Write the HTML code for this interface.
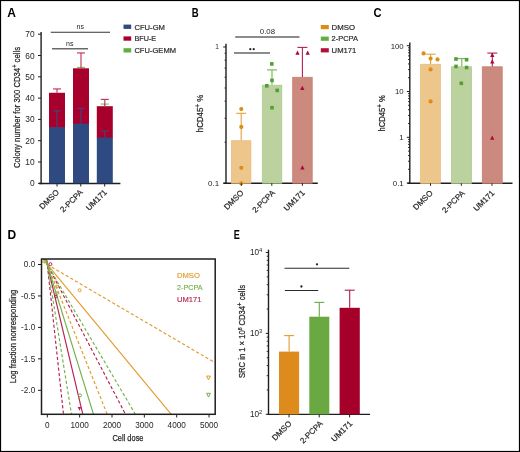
<!DOCTYPE html>
<html><head><meta charset="utf-8"><style>
html,body{margin:0;padding:0;width:520px;height:452px;overflow:hidden;background:#fff;}
svg{will-change:transform;} svg text{font-family:"Liberation Sans", sans-serif;}
</style></head><body>
<svg width="520" height="452" viewBox="0 0 520 452" style="position:absolute;left:0;top:0">
<rect x="0" y="0" width="520" height="452" fill="#ffffff"/>
<text transform="translate(7.3 16.8) scale(1.0 1)" x="0" y="0" font-size="12" font-weight="bold" fill="#000">A</text>
<text transform="translate(191.8 17.0) scale(0.8 1)" x="0" y="0" font-size="12" font-weight="bold" fill="#000">B</text>
<text transform="translate(373.4 17.1) scale(0.93 1)" x="0" y="0" font-size="12" font-weight="bold" fill="#000">C</text>
<text transform="translate(7.6 238.9) scale(1.0 1)" x="0" y="0" font-size="12" font-weight="bold" fill="#000">D</text>
<text transform="translate(233.8 238.9) scale(0.76 1)" x="0" y="0" font-size="12" font-weight="bold" fill="#000">E</text>
<line x1="41.10" y1="31.90" x2="41.10" y2="184.20" stroke="#1e1e1e" stroke-width="1.4" />
<line x1="38.90" y1="183.50" x2="120.40" y2="183.50" stroke="#1e1e1e" stroke-width="1.4" />
<line x1="38.00" y1="183.30" x2="41.00" y2="183.30" stroke="#1e1e1e" stroke-width="1.0" />
<text x="34.60" y="186.30" font-size="8.4" text-anchor="end" fill="#262626" font-weight="normal" >0</text>
<line x1="38.00" y1="162.00" x2="41.00" y2="162.00" stroke="#1e1e1e" stroke-width="1.0" />
<text x="34.60" y="165.00" font-size="8.4" text-anchor="end" fill="#262626" font-weight="normal" >10</text>
<line x1="38.00" y1="140.70" x2="41.00" y2="140.70" stroke="#1e1e1e" stroke-width="1.0" />
<text x="34.60" y="143.70" font-size="8.4" text-anchor="end" fill="#262626" font-weight="normal" >20</text>
<line x1="38.00" y1="119.40" x2="41.00" y2="119.40" stroke="#1e1e1e" stroke-width="1.0" />
<text x="34.60" y="122.40" font-size="8.4" text-anchor="end" fill="#262626" font-weight="normal" >30</text>
<line x1="38.00" y1="98.10" x2="41.00" y2="98.10" stroke="#1e1e1e" stroke-width="1.0" />
<text x="34.60" y="101.10" font-size="8.4" text-anchor="end" fill="#262626" font-weight="normal" >40</text>
<line x1="38.00" y1="76.80" x2="41.00" y2="76.80" stroke="#1e1e1e" stroke-width="1.0" />
<text x="34.60" y="79.80" font-size="8.4" text-anchor="end" fill="#262626" font-weight="normal" >50</text>
<line x1="38.00" y1="55.50" x2="41.00" y2="55.50" stroke="#1e1e1e" stroke-width="1.0" />
<text x="34.60" y="58.50" font-size="8.4" text-anchor="end" fill="#262626" font-weight="normal" >60</text>
<line x1="38.00" y1="34.20" x2="41.00" y2="34.20" stroke="#1e1e1e" stroke-width="1.0" />
<text x="34.60" y="37.20" font-size="8.4" text-anchor="end" fill="#262626" font-weight="normal" >70</text>
<rect x="49.00" y="92.78" width="16.00" height="35.11" fill="#a8002c" />
<rect x="49.00" y="127.28" width="16.00" height="56.02" fill="#2e4a80" />
<rect x="73.00" y="68.28" width="16.00" height="55.98" fill="#a8002c" />
<rect x="73.00" y="123.66" width="16.00" height="59.64" fill="#2e4a80" />
<rect x="96.80" y="106.19" width="16.00" height="31.91" fill="#a8002c" />
<rect x="96.80" y="137.51" width="16.00" height="45.79" fill="#2e4a80" />
<line x1="57.00" y1="127.28" x2="57.00" y2="110.88" stroke="#44447a" stroke-width="1.1" />
<line x1="53.00" y1="110.88" x2="61.00" y2="110.88" stroke="#44447a" stroke-width="1.1" />
<line x1="57.00" y1="92.78" x2="57.00" y2="88.94" stroke="#c02c55" stroke-width="1.1" />
<line x1="53.00" y1="88.94" x2="61.00" y2="88.94" stroke="#c02c55" stroke-width="1.1" />
<line x1="81.00" y1="123.66" x2="81.00" y2="108.32" stroke="#44447a" stroke-width="1.1" />
<line x1="77.00" y1="108.32" x2="85.00" y2="108.32" stroke="#44447a" stroke-width="1.1" />
<line x1="81.00" y1="68.28" x2="81.00" y2="67.43" stroke="#7cc05c" stroke-width="1.1" />
<line x1="77.00" y1="67.43" x2="85.00" y2="67.43" stroke="#7cc05c" stroke-width="1.1" />
<line x1="81.00" y1="68.28" x2="81.00" y2="52.94" stroke="#c02c55" stroke-width="1.1" />
<line x1="77.00" y1="52.94" x2="85.00" y2="52.94" stroke="#c02c55" stroke-width="1.1" />
<line x1="104.80" y1="137.51" x2="104.80" y2="131.12" stroke="#44447a" stroke-width="1.1" />
<line x1="100.80" y1="131.12" x2="108.80" y2="131.12" stroke="#44447a" stroke-width="1.1" />
<line x1="104.80" y1="106.19" x2="104.80" y2="104.06" stroke="#7cc05c" stroke-width="1.1" />
<line x1="100.80" y1="104.06" x2="108.80" y2="104.06" stroke="#7cc05c" stroke-width="1.1" />
<line x1="104.80" y1="106.19" x2="104.80" y2="99.38" stroke="#c02c55" stroke-width="1.1" />
<line x1="100.80" y1="99.38" x2="108.80" y2="99.38" stroke="#c02c55" stroke-width="1.1" />
<line x1="57.00" y1="183.50" x2="57.00" y2="186.50" stroke="#1e1e1e" stroke-width="1.0" />
<line x1="80.80" y1="183.50" x2="80.80" y2="186.50" stroke="#1e1e1e" stroke-width="1.0" />
<line x1="104.70" y1="183.50" x2="104.70" y2="186.50" stroke="#1e1e1e" stroke-width="1.0" />
<line x1="50.80" y1="32.30" x2="110.00" y2="32.30" stroke="#333" stroke-width="1.1" />
<text x="80.30" y="29.40" font-size="7.0" text-anchor="middle" fill="#262626" font-weight="normal" >ns</text>
<line x1="52.00" y1="48.80" x2="88.00" y2="48.80" stroke="#6a6a6a" stroke-width="1.5" />
<text x="69.80" y="45.90" font-size="7.0" text-anchor="middle" fill="#262626" font-weight="normal" >ns</text>
<rect x="123.50" y="24.60" width="7.70" height="4.30" fill="#2e4a80" />
<text x="134.40" y="29.50" font-size="8" text-anchor="start" fill="#2a2a2a" font-weight="normal" textLength="30.6" lengthAdjust="spacingAndGlyphs" stroke="#2a2a2a" stroke-width="0.2">CFU-GM</text>
<rect x="123.50" y="36.40" width="7.70" height="4.30" fill="#a8002c" />
<text x="134.40" y="41.30" font-size="8" text-anchor="start" fill="#2a2a2a" font-weight="normal" textLength="21.8" lengthAdjust="spacingAndGlyphs" stroke="#2a2a2a" stroke-width="0.2">BFU-E</text>
<rect x="123.50" y="48.20" width="7.70" height="4.30" fill="#5fae3f" />
<text x="134.40" y="53.10" font-size="8" text-anchor="start" fill="#2a2a2a" font-weight="normal" textLength="41.6" lengthAdjust="spacingAndGlyphs" stroke="#2a2a2a" stroke-width="0.2">CFU-GEMM</text>
<text x="59.60" y="192.80" font-size="8" text-anchor="end" fill="#262626" font-weight="normal" transform="rotate(-45 59.6 192.8)" stroke="#262626" stroke-width="0.2">DMSO</text>
<text x="83.40" y="192.80" font-size="8" text-anchor="end" fill="#262626" font-weight="normal" transform="rotate(-45 83.4 192.8)" stroke="#262626" stroke-width="0.2">2-PCPA</text>
<text x="107.50" y="192.80" font-size="8" text-anchor="end" fill="#262626" font-weight="normal" transform="rotate(-45 107.5 192.8)" stroke="#262626" stroke-width="0.2">UM171</text>
<text x="20.30" y="168.00" font-size="9.6" text-anchor="start" fill="#262626" font-weight="normal" textLength="121" lengthAdjust="spacingAndGlyphs" transform="rotate(-90 20.3 168)" stroke="#262626" stroke-width="0.25">Colony number for 300 CD34<tspan dy="-3.3" font-size="7">+</tspan><tspan dy="3.3"> cells</tspan></text>
<line x1="226.00" y1="43.80" x2="226.00" y2="183.80" stroke="#1e1e1e" stroke-width="1.4" />
<line x1="223.50" y1="183.20" x2="317.80" y2="183.20" stroke="#1e1e1e" stroke-width="1.4" />
<line x1="223.20" y1="47.00" x2="226.00" y2="47.00" stroke="#1e1e1e" stroke-width="1.0" />
<line x1="223.20" y1="183.20" x2="226.00" y2="183.20" stroke="#1e1e1e" stroke-width="1.0" />
<line x1="224.60" y1="142.20" x2="226.00" y2="142.20" stroke="#1e1e1e" stroke-width="1.0" />
<line x1="224.60" y1="118.22" x2="226.00" y2="118.22" stroke="#1e1e1e" stroke-width="1.0" />
<line x1="224.60" y1="101.20" x2="226.00" y2="101.20" stroke="#1e1e1e" stroke-width="1.0" />
<line x1="224.60" y1="88.00" x2="226.00" y2="88.00" stroke="#1e1e1e" stroke-width="1.0" />
<line x1="224.60" y1="77.22" x2="226.00" y2="77.22" stroke="#1e1e1e" stroke-width="1.0" />
<line x1="224.60" y1="68.10" x2="226.00" y2="68.10" stroke="#1e1e1e" stroke-width="1.0" />
<line x1="224.60" y1="60.20" x2="226.00" y2="60.20" stroke="#1e1e1e" stroke-width="1.0" />
<line x1="224.60" y1="53.23" x2="226.00" y2="53.23" stroke="#1e1e1e" stroke-width="1.0" />
<text x="218.90" y="49.40" font-size="6.5" text-anchor="end" fill="#262626" font-weight="normal" >1</text>
<text x="219.20" y="186.00" font-size="8" text-anchor="end" fill="#262626" font-weight="normal" >0.1</text>
<rect x="231.40" y="140.70" width="19.50" height="42.50" fill="#edc68c" stroke="#e9bd7c" stroke-width="0.8"/>
<rect x="262.30" y="85.20" width="19.50" height="98.00" fill="#bbd29e" stroke="#abcb8f" stroke-width="0.8"/>
<rect x="292.70" y="77.30" width="19.50" height="105.90" fill="#cc8a7e" stroke="#c77c72" stroke-width="0.8"/>
<line x1="241.20" y1="140.30" x2="241.20" y2="113.30" stroke="#e3a040" stroke-width="1.1" />
<line x1="236.20" y1="113.30" x2="246.20" y2="113.30" stroke="#e3a040" stroke-width="1.1" />
<line x1="272.00" y1="84.80" x2="272.00" y2="69.90" stroke="#74b450" stroke-width="1.1" />
<line x1="267.00" y1="69.90" x2="277.00" y2="69.90" stroke="#74b450" stroke-width="1.1" />
<line x1="302.40" y1="76.90" x2="302.40" y2="47.40" stroke="#b52050" stroke-width="1.1" />
<line x1="297.40" y1="47.40" x2="307.40" y2="47.40" stroke="#b52050" stroke-width="1.1" />
<circle cx="241.30" cy="109.10" r="2.1" fill="#dc8d16" />
<circle cx="241.30" cy="126.90" r="2.1" fill="#dc8d16" />
<circle cx="241.30" cy="167.80" r="2.1" fill="#dc8d16" />
<circle cx="241.30" cy="183.30" r="2.1" fill="#dc8d16" />
<rect x="270.00" y="62.10" width="3.60" height="3.60" fill="#52a033" />
<rect x="270.20" y="78.60" width="3.60" height="3.60" fill="#52a033" />
<rect x="265.00" y="84.00" width="3.60" height="3.60" fill="#52a033" />
<rect x="275.40" y="88.60" width="3.60" height="3.60" fill="#52a033" />
<rect x="270.20" y="105.90" width="3.60" height="3.60" fill="#52a033" />
<polygon points="297.50,50.42 295.35,54.72 299.65,54.72" fill="#a8083a" stroke="none" stroke-width="0"/>
<polygon points="307.70,50.42 305.55,54.72 309.85,54.72" fill="#a8083a" stroke="none" stroke-width="0"/>
<polygon points="302.30,85.82 300.15,90.12 304.45,90.12" fill="#a8083a" stroke="none" stroke-width="0"/>
<polygon points="302.40,165.22 300.25,169.52 304.55,169.52" fill="#a8083a" stroke="none" stroke-width="0"/>
<line x1="241.30" y1="183.20" x2="241.30" y2="185.80" stroke="#1e1e1e" stroke-width="1.0" />
<line x1="271.80" y1="183.20" x2="271.80" y2="185.80" stroke="#1e1e1e" stroke-width="1.0" />
<line x1="302.40" y1="183.20" x2="302.40" y2="185.80" stroke="#1e1e1e" stroke-width="1.0" />
<line x1="235.20" y1="36.90" x2="299.50" y2="36.90" stroke="#666" stroke-width="1.5" />
<text x="267.40" y="34.20" font-size="7.8" text-anchor="middle" fill="#262626" font-weight="normal" >0.08</text>

<line x1="234.00" y1="52.90" x2="270.00" y2="52.90" stroke="#666" stroke-width="1.5" />
<circle cx="250.30" cy="49.20" r="1.1" fill="#222" />
<circle cx="253.70" cy="49.20" r="1.1" fill="#222" />
<rect x="320.80" y="25.00" width="8.00" height="4.20" fill="#dc8d16" />
<text x="331.60" y="29.80" font-size="8" text-anchor="start" fill="#2a2a2a" font-weight="normal" textLength="23.4" lengthAdjust="spacingAndGlyphs" stroke="#2a2a2a" stroke-width="0.2">DMSO</text>
<rect x="320.80" y="36.60" width="8.00" height="4.20" fill="#5fae3f" />
<text x="331.60" y="41.40" font-size="8" text-anchor="start" fill="#2a2a2a" font-weight="normal" textLength="26.4" lengthAdjust="spacingAndGlyphs" stroke="#2a2a2a" stroke-width="0.2">2-PCPA</text>
<rect x="320.80" y="48.20" width="8.00" height="4.20" fill="#b0103a" />
<text x="331.60" y="53.00" font-size="8" text-anchor="start" fill="#2a2a2a" font-weight="normal" textLength="24.8" lengthAdjust="spacingAndGlyphs" stroke="#2a2a2a" stroke-width="0.2">UM171</text>
<text x="244.20" y="193.30" font-size="8" text-anchor="end" fill="#262626" font-weight="normal" transform="rotate(-45 244.2 193.3)" stroke="#262626" stroke-width="0.2">DMSO</text>
<text x="275.50" y="193.30" font-size="8" text-anchor="end" fill="#262626" font-weight="normal" transform="rotate(-45 275.5 193.3)" stroke="#262626" stroke-width="0.2">2-PCPA</text>
<text x="305.30" y="193.30" font-size="8" text-anchor="end" fill="#262626" font-weight="normal" transform="rotate(-45 305.3 193.3)" stroke="#262626" stroke-width="0.2">UM171</text>
<text x="203.50" y="131.90" font-size="8.6" text-anchor="start" fill="#262626" font-weight="normal" textLength="37.5" lengthAdjust="spacingAndGlyphs" transform="rotate(-90 203.5 132.2)" stroke="#262626" stroke-width="0.25">hCD45<tspan dy="-3" font-size="7">+</tspan><tspan dy="3"> %</tspan></text>
<line x1="409.80" y1="42.60" x2="409.80" y2="183.80" stroke="#1e1e1e" stroke-width="1.4" />
<line x1="407.50" y1="183.30" x2="512.50" y2="183.30" stroke="#1e1e1e" stroke-width="1.4" />
<line x1="406.80" y1="45.70" x2="409.80" y2="45.70" stroke="#1e1e1e" stroke-width="1.0" />
<line x1="406.80" y1="91.50" x2="409.80" y2="91.50" stroke="#1e1e1e" stroke-width="1.0" />
<line x1="406.80" y1="137.30" x2="409.80" y2="137.30" stroke="#1e1e1e" stroke-width="1.0" />
<line x1="406.80" y1="183.10" x2="409.80" y2="183.10" stroke="#1e1e1e" stroke-width="1.0" />
<line x1="408.00" y1="169.31" x2="409.80" y2="169.31" stroke="#1e1e1e" stroke-width="0.9" />
<line x1="408.00" y1="161.25" x2="409.80" y2="161.25" stroke="#1e1e1e" stroke-width="0.9" />
<line x1="408.00" y1="155.53" x2="409.80" y2="155.53" stroke="#1e1e1e" stroke-width="0.9" />
<line x1="408.00" y1="151.09" x2="409.80" y2="151.09" stroke="#1e1e1e" stroke-width="0.9" />
<line x1="408.00" y1="147.46" x2="409.80" y2="147.46" stroke="#1e1e1e" stroke-width="0.9" />
<line x1="408.00" y1="144.39" x2="409.80" y2="144.39" stroke="#1e1e1e" stroke-width="0.9" />
<line x1="408.00" y1="141.74" x2="409.80" y2="141.74" stroke="#1e1e1e" stroke-width="0.9" />
<line x1="408.00" y1="139.40" x2="409.80" y2="139.40" stroke="#1e1e1e" stroke-width="0.9" />
<line x1="408.00" y1="123.51" x2="409.80" y2="123.51" stroke="#1e1e1e" stroke-width="0.9" />
<line x1="408.00" y1="115.45" x2="409.80" y2="115.45" stroke="#1e1e1e" stroke-width="0.9" />
<line x1="408.00" y1="109.73" x2="409.80" y2="109.73" stroke="#1e1e1e" stroke-width="0.9" />
<line x1="408.00" y1="105.29" x2="409.80" y2="105.29" stroke="#1e1e1e" stroke-width="0.9" />
<line x1="408.00" y1="101.66" x2="409.80" y2="101.66" stroke="#1e1e1e" stroke-width="0.9" />
<line x1="408.00" y1="98.59" x2="409.80" y2="98.59" stroke="#1e1e1e" stroke-width="0.9" />
<line x1="408.00" y1="95.94" x2="409.80" y2="95.94" stroke="#1e1e1e" stroke-width="0.9" />
<line x1="408.00" y1="93.60" x2="409.80" y2="93.60" stroke="#1e1e1e" stroke-width="0.9" />
<line x1="408.00" y1="77.71" x2="409.80" y2="77.71" stroke="#1e1e1e" stroke-width="0.9" />
<line x1="408.00" y1="69.65" x2="409.80" y2="69.65" stroke="#1e1e1e" stroke-width="0.9" />
<line x1="408.00" y1="63.93" x2="409.80" y2="63.93" stroke="#1e1e1e" stroke-width="0.9" />
<line x1="408.00" y1="59.49" x2="409.80" y2="59.49" stroke="#1e1e1e" stroke-width="0.9" />
<line x1="408.00" y1="55.86" x2="409.80" y2="55.86" stroke="#1e1e1e" stroke-width="0.9" />
<line x1="408.00" y1="52.79" x2="409.80" y2="52.79" stroke="#1e1e1e" stroke-width="0.9" />
<line x1="408.00" y1="50.14" x2="409.80" y2="50.14" stroke="#1e1e1e" stroke-width="0.9" />
<line x1="408.00" y1="47.80" x2="409.80" y2="47.80" stroke="#1e1e1e" stroke-width="0.9" />
<text x="403.70" y="48.50" font-size="7.8" text-anchor="end" fill="#262626" font-weight="normal" >100</text>
<text x="403.70" y="94.30" font-size="7.8" text-anchor="end" fill="#262626" font-weight="normal" >10</text>
<text x="403.70" y="140.10" font-size="7.8" text-anchor="end" fill="#262626" font-weight="normal" >1</text>
<text x="403.70" y="185.90" font-size="7.8" text-anchor="end" fill="#262626" font-weight="normal" >0.1</text>
<rect x="420.60" y="64.30" width="19.80" height="119.00" fill="#edc68c" stroke="#e9bd7c" stroke-width="0.8"/>
<rect x="451.50" y="66.80" width="20.00" height="116.50" fill="#bbd29e" stroke="#abcb8f" stroke-width="0.8"/>
<rect x="482.30" y="66.80" width="19.90" height="116.50" fill="#cc8a7e" stroke="#c77c72" stroke-width="0.8"/>
<line x1="430.60" y1="63.90" x2="430.60" y2="54.20" stroke="#e3a040" stroke-width="1.1" />
<line x1="425.60" y1="54.20" x2="435.60" y2="54.20" stroke="#e3a040" stroke-width="1.1" />
<line x1="461.80" y1="66.40" x2="461.80" y2="58.60" stroke="#74b450" stroke-width="1.1" />
<line x1="456.80" y1="58.60" x2="466.80" y2="58.60" stroke="#74b450" stroke-width="1.1" />
<line x1="492.30" y1="66.40" x2="492.30" y2="53.10" stroke="#b52050" stroke-width="1.1" />
<line x1="487.30" y1="53.10" x2="497.30" y2="53.10" stroke="#b52050" stroke-width="1.1" />
<circle cx="423.60" cy="53.40" r="2.1" fill="#dc8d16" />
<circle cx="430.60" cy="58.60" r="2.1" fill="#dc8d16" />
<circle cx="437.50" cy="59.40" r="2.1" fill="#dc8d16" />
<circle cx="430.60" cy="69.40" r="2.1" fill="#dc8d16" />
<circle cx="430.60" cy="101.40" r="2.1" fill="#dc8d16" />
<rect x="454.20" y="57.20" width="3.60" height="3.60" fill="#52a033" />
<rect x="464.80" y="57.90" width="3.60" height="3.60" fill="#52a033" />
<rect x="454.20" y="64.60" width="3.60" height="3.60" fill="#52a033" />
<rect x="464.80" y="65.70" width="3.60" height="3.60" fill="#52a033" />
<rect x="459.50" y="81.50" width="3.60" height="3.60" fill="#52a033" />
<polygon points="492.30,52.62 490.15,56.92 494.45,56.92" fill="#a8083a" stroke="none" stroke-width="0"/>
<polygon points="492.30,59.22 490.15,63.52 494.45,63.52" fill="#a8083a" stroke="none" stroke-width="0"/>
<polygon points="492.20,135.52 490.05,139.82 494.35,139.82" fill="#a8083a" stroke="none" stroke-width="0"/>
<line x1="430.50" y1="183.30" x2="430.50" y2="185.80" stroke="#1e1e1e" stroke-width="1.0" />
<line x1="461.30" y1="183.30" x2="461.30" y2="185.80" stroke="#1e1e1e" stroke-width="1.0" />
<line x1="492.00" y1="183.30" x2="492.00" y2="185.80" stroke="#1e1e1e" stroke-width="1.0" />
<text x="433.30" y="193.60" font-size="8" text-anchor="end" fill="#262626" font-weight="normal" transform="rotate(-45 433.3 193.6)" stroke="#262626" stroke-width="0.2">DMSO</text>
<text x="465.30" y="193.60" font-size="8" text-anchor="end" fill="#262626" font-weight="normal" transform="rotate(-45 465.3 193.6)" stroke="#262626" stroke-width="0.2">2-PCPA</text>
<text x="495.00" y="193.60" font-size="8" text-anchor="end" fill="#262626" font-weight="normal" transform="rotate(-45 495.0 193.6)" stroke="#262626" stroke-width="0.2">UM171</text>
<text x="385.00" y="131.10" font-size="8.6" text-anchor="start" fill="#262626" font-weight="normal" textLength="36.2" lengthAdjust="spacingAndGlyphs" transform="rotate(-90 385 131.4)" stroke="#262626" stroke-width="0.25">hCD45<tspan dy="-3" font-size="7">+</tspan><tspan dy="3"> %</tspan></text>
<defs><clipPath id="clipD"><rect x="41.5" y="259.0" width="173.7" height="155.3"/></clipPath></defs>
<g clip-path="url(#clipD)">
<line x1="-109.10" y1="-35.10" x2="281.90" y2="713.90" stroke="#b81f4e" stroke-width="1.15" stroke-dasharray="3.2,2.2"/>
<line x1="-23.70" y1="-35.10" x2="153.80" y2="713.90" stroke="#b81f4e" stroke-width="1.15" />
<line x1="14.90" y1="-35.10" x2="95.90" y2="713.90" stroke="#b81f4e" stroke-width="1.15" stroke-dasharray="3.2,2.2"/>
<line x1="-288.50" y1="67.90" x2="551.00" y2="559.40" stroke="#e39a2c" stroke-width="1.15" stroke-dasharray="3.2,2.2"/>
<line x1="-200.50" y1="-35.10" x2="419.00" y2="713.90" stroke="#e39a2c" stroke-width="1.15" />
<line x1="-72.50" y1="-35.10" x2="227.00" y2="713.90" stroke="#e39a2c" stroke-width="1.15" stroke-dasharray="3.2,2.2"/>
<line x1="-128.90" y1="-35.10" x2="311.60" y2="713.90" stroke="#70b24a" stroke-width="1.15" stroke-dasharray="3.2,2.2"/>
<line x1="-45.10" y1="-35.10" x2="185.90" y2="713.90" stroke="#70b24a" stroke-width="1.15" />
<line x1="-1.10" y1="-35.10" x2="119.90" y2="713.90" stroke="#70b24a" stroke-width="1.15" stroke-dasharray="3.2,2.2"/>
</g>
<rect x="41.5" y="259.0" width="173.7" height="155.3" fill="none" stroke="#1e1e1e" stroke-width="1.5"/>
<line x1="38.00" y1="264.50" x2="41.50" y2="264.50" stroke="#1e1e1e" stroke-width="1.0" />
<text x="35.20" y="267.40" font-size="8.2" text-anchor="end" fill="#262626" font-weight="normal" >0.0</text>
<line x1="38.00" y1="295.95" x2="41.50" y2="295.95" stroke="#1e1e1e" stroke-width="1.0" />
<text x="35.20" y="298.85" font-size="8.2" text-anchor="end" fill="#262626" font-weight="normal" >-0.5</text>
<line x1="38.00" y1="327.40" x2="41.50" y2="327.40" stroke="#1e1e1e" stroke-width="1.0" />
<text x="35.20" y="330.30" font-size="8.2" text-anchor="end" fill="#262626" font-weight="normal" >-1.0</text>
<line x1="38.00" y1="358.85" x2="41.50" y2="358.85" stroke="#1e1e1e" stroke-width="1.0" />
<text x="35.20" y="361.75" font-size="8.2" text-anchor="end" fill="#262626" font-weight="normal" >-1.5</text>
<line x1="38.00" y1="390.30" x2="41.50" y2="390.30" stroke="#1e1e1e" stroke-width="1.0" />
<text x="35.20" y="393.20" font-size="8.2" text-anchor="end" fill="#262626" font-weight="normal" >-2.0</text>
<line x1="47.30" y1="414.30" x2="47.30" y2="417.50" stroke="#1e1e1e" stroke-width="1.0" />
<text x="47.30" y="427.70" font-size="8.2" text-anchor="middle" fill="#262626" font-weight="normal" >0</text>
<line x1="79.65" y1="414.30" x2="79.65" y2="417.50" stroke="#1e1e1e" stroke-width="1.0" />
<text x="79.65" y="427.70" font-size="8.2" text-anchor="middle" fill="#262626" font-weight="normal" >1000</text>
<line x1="112.00" y1="414.30" x2="112.00" y2="417.50" stroke="#1e1e1e" stroke-width="1.0" />
<text x="112.00" y="427.70" font-size="8.2" text-anchor="middle" fill="#262626" font-weight="normal" >2000</text>
<line x1="144.35" y1="414.30" x2="144.35" y2="417.50" stroke="#1e1e1e" stroke-width="1.0" />
<text x="144.35" y="427.70" font-size="8.2" text-anchor="middle" fill="#262626" font-weight="normal" >3000</text>
<line x1="176.70" y1="414.30" x2="176.70" y2="417.50" stroke="#1e1e1e" stroke-width="1.0" />
<text x="176.70" y="427.70" font-size="8.2" text-anchor="middle" fill="#262626" font-weight="normal" >4000</text>
<line x1="209.05" y1="414.30" x2="209.05" y2="417.50" stroke="#1e1e1e" stroke-width="1.0" />
<text x="209.05" y="427.70" font-size="8.2" text-anchor="middle" fill="#262626" font-weight="normal" >5000</text>
<text x="128.00" y="441.00" font-size="9.6" text-anchor="middle" fill="#262626" font-weight="normal" textLength="31" lengthAdjust="spacingAndGlyphs" stroke="#262626" stroke-width="0.25">Cell dose</text>
<text x="16.20" y="383.20" font-size="9.4" text-anchor="start" fill="#262626" font-weight="normal" textLength="93.5" lengthAdjust="spacingAndGlyphs" transform="rotate(-90 16.2 383.2)" stroke="#262626" stroke-width="0.25">Log fraction nonresponding</text>
<text x="177.00" y="277.60" font-size="7.8" text-anchor="start" fill="#e39a2c" font-weight="normal" textLength="22.9" lengthAdjust="spacingAndGlyphs" stroke="#e39a2c" stroke-width="0.15">DMSO</text>
<text x="177.00" y="289.80" font-size="7.8" text-anchor="start" fill="#70b24a" font-weight="normal" textLength="25.7" lengthAdjust="spacingAndGlyphs" stroke="#70b24a" stroke-width="0.15">2-PCPA</text>
<text x="177.00" y="302.00" font-size="7.8" text-anchor="start" fill="#b81f4e" font-weight="normal" textLength="24.4" lengthAdjust="spacingAndGlyphs" stroke="#b81f4e" stroke-width="0.15">UM171</text>
<circle cx="50.4" cy="264.2" r="1.5" fill="none" stroke="#b81f4e" stroke-width="1"/>
<circle cx="79.6" cy="290.3" r="1.5" fill="none" stroke="#e39a2c" stroke-width="1"/>
<circle cx="80" cy="395.4" r="1.5" fill="none" stroke="#70b24a" stroke-width="1"/>
<polygon points="79.50,410.66 77.70,407.06 81.30,407.06" fill="#b81f4e" stroke="none" stroke-width="0"/>
<circle cx="56.9" cy="286.5" r="1.4" fill="none" stroke="#e39a2c" stroke-width="1"/>
<circle cx="56.9" cy="293.4" r="1.4" fill="none" stroke="#70b24a" stroke-width="1"/>
<circle cx="55.9" cy="296.6" r="1.3" fill="none" stroke="#b81f4e" stroke-width="1"/>
<polygon points="208.50,379.88 206.60,376.08 210.40,376.08" fill="#fff" stroke="#e39a2c" stroke-width="1.0"/>
<polygon points="208.50,397.08 206.60,393.28 210.40,393.28" fill="#fff" stroke="#70b24a" stroke-width="1.0"/>
<line x1="268.50" y1="249.70" x2="268.50" y2="415.00" stroke="#1e1e1e" stroke-width="1.4" />
<line x1="267.80" y1="414.40" x2="370.10" y2="414.40" stroke="#1e1e1e" stroke-width="1.4" />
<line x1="265.80" y1="414.30" x2="268.50" y2="414.30" stroke="#1e1e1e" stroke-width="1.0" />
<text x="262.3" y="417.20" font-size="8.2" text-anchor="end" fill="#262626">10<tspan dy="-3.6" font-size="5.8">2</tspan></text>
<line x1="265.80" y1="333.40" x2="268.50" y2="333.40" stroke="#1e1e1e" stroke-width="1.0" />
<text x="262.3" y="336.30" font-size="8.2" text-anchor="end" fill="#262626">10<tspan dy="-3.6" font-size="5.8">3</tspan></text>
<line x1="265.80" y1="252.50" x2="268.50" y2="252.50" stroke="#1e1e1e" stroke-width="1.0" />
<text x="262.3" y="255.40" font-size="8.2" text-anchor="end" fill="#262626">10<tspan dy="-3.6" font-size="5.8">4</tspan></text>
<line x1="266.70" y1="389.95" x2="268.50" y2="389.95" stroke="#1e1e1e" stroke-width="0.9" />
<line x1="266.70" y1="375.70" x2="268.50" y2="375.70" stroke="#1e1e1e" stroke-width="0.9" />
<line x1="266.70" y1="365.59" x2="268.50" y2="365.59" stroke="#1e1e1e" stroke-width="0.9" />
<line x1="266.70" y1="357.75" x2="268.50" y2="357.75" stroke="#1e1e1e" stroke-width="0.9" />
<line x1="266.70" y1="351.35" x2="268.50" y2="351.35" stroke="#1e1e1e" stroke-width="0.9" />
<line x1="266.70" y1="345.93" x2="268.50" y2="345.93" stroke="#1e1e1e" stroke-width="0.9" />
<line x1="266.70" y1="341.24" x2="268.50" y2="341.24" stroke="#1e1e1e" stroke-width="0.9" />
<line x1="266.70" y1="337.10" x2="268.50" y2="337.10" stroke="#1e1e1e" stroke-width="0.9" />
<line x1="266.70" y1="309.05" x2="268.50" y2="309.05" stroke="#1e1e1e" stroke-width="0.9" />
<line x1="266.70" y1="294.80" x2="268.50" y2="294.80" stroke="#1e1e1e" stroke-width="0.9" />
<line x1="266.70" y1="284.69" x2="268.50" y2="284.69" stroke="#1e1e1e" stroke-width="0.9" />
<line x1="266.70" y1="276.85" x2="268.50" y2="276.85" stroke="#1e1e1e" stroke-width="0.9" />
<line x1="266.70" y1="270.45" x2="268.50" y2="270.45" stroke="#1e1e1e" stroke-width="0.9" />
<line x1="266.70" y1="265.03" x2="268.50" y2="265.03" stroke="#1e1e1e" stroke-width="0.9" />
<line x1="266.70" y1="260.34" x2="268.50" y2="260.34" stroke="#1e1e1e" stroke-width="0.9" />
<line x1="266.70" y1="256.20" x2="268.50" y2="256.20" stroke="#1e1e1e" stroke-width="0.9" />
<rect x="279.00" y="351.60" width="20.10" height="62.80" fill="#dd8b1c" />
<rect x="309.30" y="316.70" width="20.00" height="97.70" fill="#6aa842" />
<rect x="339.60" y="307.80" width="20.20" height="106.60" fill="#a5002a" />
<line x1="289.10" y1="351.60" x2="289.10" y2="335.60" stroke="#e49a30" stroke-width="1.1" />
<line x1="284.10" y1="335.60" x2="294.10" y2="335.60" stroke="#e49a30" stroke-width="1.1" />
<line x1="319.30" y1="316.70" x2="319.30" y2="302.40" stroke="#6aaa48" stroke-width="1.1" />
<line x1="314.30" y1="302.40" x2="324.30" y2="302.40" stroke="#6aaa48" stroke-width="1.1" />
<line x1="349.70" y1="307.80" x2="349.70" y2="290.20" stroke="#b4184a" stroke-width="1.1" />
<line x1="344.70" y1="290.20" x2="354.70" y2="290.20" stroke="#b4184a" stroke-width="1.1" />
<line x1="284.50" y1="268.20" x2="349.30" y2="268.20" stroke="#2a2a2a" stroke-width="1.1" />
<circle cx="317.00" cy="264.30" r="1.15" fill="#222" />
<line x1="284.90" y1="290.50" x2="318.20" y2="290.50" stroke="#2a2a2a" stroke-width="1.1" />
<circle cx="301.40" cy="286.50" r="1.15" fill="#222" />
<line x1="289.00" y1="414.40" x2="289.00" y2="417.40" stroke="#1e1e1e" stroke-width="1.0" />
<line x1="319.20" y1="414.40" x2="319.20" y2="417.40" stroke="#1e1e1e" stroke-width="1.0" />
<line x1="349.60" y1="414.40" x2="349.60" y2="417.40" stroke="#1e1e1e" stroke-width="1.0" />
<text x="292.20" y="424.00" font-size="8" text-anchor="end" fill="#262626" font-weight="normal" transform="rotate(-45 292.2 424)" stroke="#262626" stroke-width="0.2">DMSO</text>
<text x="323.30" y="424.00" font-size="8" text-anchor="end" fill="#262626" font-weight="normal" transform="rotate(-45 323.3 424)" stroke="#262626" stroke-width="0.2">2-PCPA</text>
<text x="352.80" y="424.00" font-size="8" text-anchor="end" fill="#262626" font-weight="normal" transform="rotate(-45 352.8 424)" stroke="#262626" stroke-width="0.2">UM171</text>
<text x="245.00" y="378.00" font-size="8.2" text-anchor="start" fill="#262626" font-weight="normal" textLength="93" lengthAdjust="spacingAndGlyphs" transform="rotate(-90 245 378)" stroke="#262626" stroke-width="0.25">SRC in 1 × 10<tspan dy="-3" font-size="5.5">6</tspan><tspan dy="3"> CD34</tspan><tspan dy="-3" font-size="6.5">+</tspan><tspan dy="3"> cells</tspan></text>
<rect x="0.5" y="0.5" width="519" height="451" fill="none" stroke="#000" stroke-width="1.2"/>
</svg>
</body></html>
